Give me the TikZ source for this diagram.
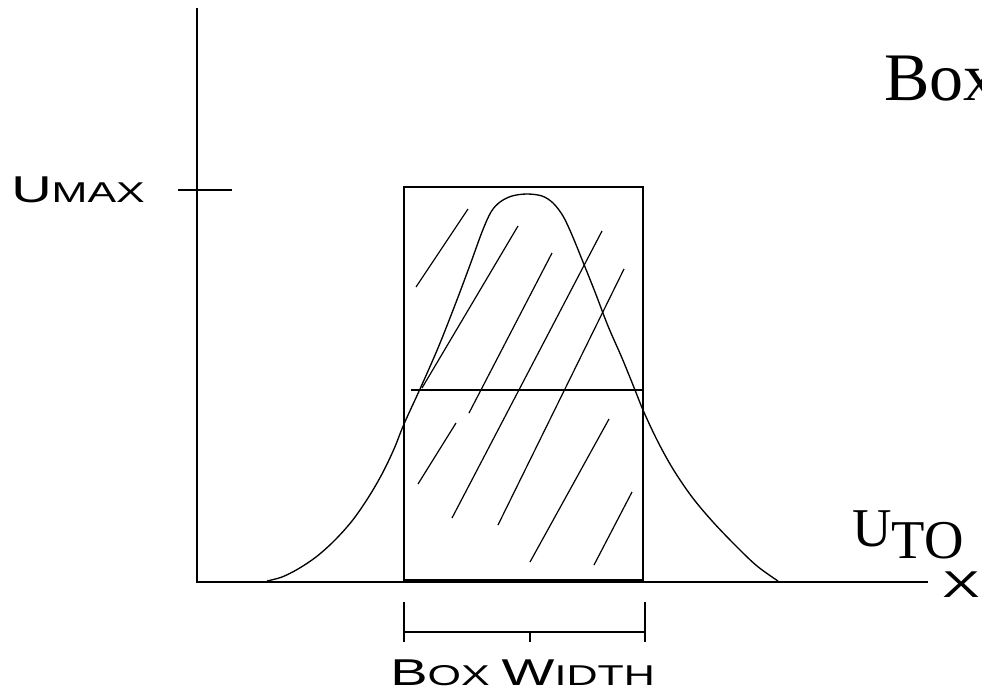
\documentclass[tikz,border=0pt]{standalone}
\usepackage{fontspec}
\setmainfont{Liberation Serif}
\newfontfamily\gothfont[FakeStretch=1.5]{Liberation Sans}
\usetikzlibrary{positioning}
\newcommand{\capL}[1]{{\fontsize{28}{28}\selectfont #1}}
\newcommand{\capS}[1]{{\fontsize{21.5}{21.5}\selectfont #1}}

\begin{document}
\begin{tikzpicture}[x=0.75pt, y=-0.75pt,
    axisline/.style={line width=1.2pt},
    hatchline/.style={line width=0.9pt},
    gothlabel/.style={inner sep=0pt, font=\gothfont}]
    \useasboundingbox (0,0) rectangle (982,697);

    % Axes
    \coordinate (origin) at (197,582);
    \coordinate (ytop) at (197,8);
    \coordinate (xend) at (928,582);
    \draw[axisline] (ytop) -- (origin) -- (xend);
    \node[gothlabel, anchor=base west] (xlabel) at (942,597) {\capL{X}};

    % Umax tick
    \coordinate (tickL) at (178,190);
    \coordinate (tickR) at (232,190);
    \draw[axisline] (tickL) -- (tickR);
    \node[gothlabel, anchor=base west] (umax) at (11,202) {\capL{U}\capS{MAX}};

    % Box and its middle line
    \draw[axisline] (404,187) rectangle (643,580);
    \draw[axisline] (411,390) -- (643,390);

    % Bell curve
    \draw[line width=1pt] plot[smooth, tension=0.55] coordinates {
        (267,581) (282,577) (298,569) (316,557) (334,541) (352,521)
        (368,498) (382,474) (394,449) (404,424) (420,389) (438,348)
        (455,305) (470,265) (482,232) (491,212) (500,202) (512,196)
        (527,194) (542,196) (553,203) (563,216) (572,235) (583,262)
        (595,292) (608,326) (622,358) (635,390) (643,410) (657,440)
        (673,469) (692,497) (713,522) (736,546) (757,566) (778,581)};

    % Hatching
    \foreach \xa/\ya/\xb/\yb in {416/287/468/209, 422/388/518/226,
        469/413/552/253, 452/518/602/231, 498/525/624/269,
        530/562/609/419, 594/565/632/492, 418/484/456/423}
        \draw[hatchline] (\xa,\ya) -- (\xb,\yb);

    % Box width bracket
    \draw[axisline] (404,602) -- (404,642);
    \draw[axisline] (645,602) -- (645,642);
    \draw[axisline] (404,632) -- (645,632);
    \draw[axisline] (530,632) -- (530,642);
    \node[gothlabel, anchor=base west] (boxwidth) at (390,685)
        {\capL{B}\capS{OX }\capL{W}\capS{IDTH}};

    % Titles on the right
    \node[inner sep=0pt, anchor=base west, font=\fontsize{51}{51}\selectfont]
        (boxtitle) at (884,100) {Box};
    \node[inner sep=0pt, anchor=base west, font=\fontsize{41}{41}\selectfont]
        (utot) at (852,546) {U\raisebox{-9pt}{TO}};
\end{tikzpicture}
\end{document}
